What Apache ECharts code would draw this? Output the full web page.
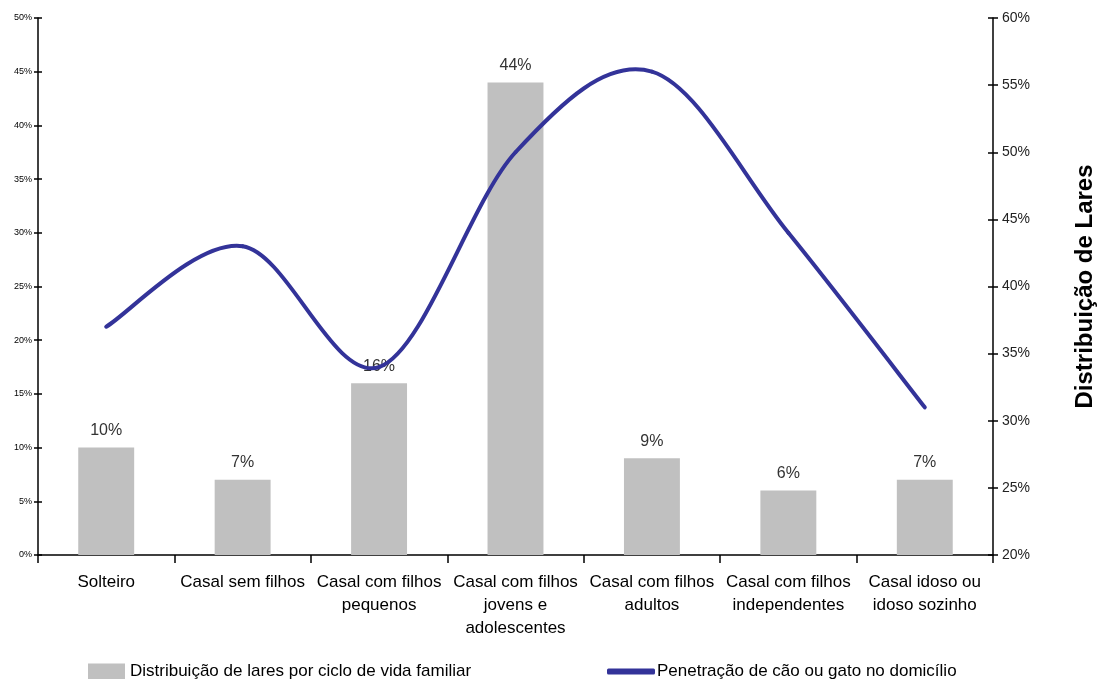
<!DOCTYPE html>
<html>
<head>
<meta charset="utf-8">
<script src="https://cdn.jsdelivr.net/npm/echarts@6/dist/echarts.min.js"></script>
<style>
  html, body { margin: 0; padding: 0; background: #fff; }
  #chart { width: 1100px; height: 679px; }
</style>
</head>
<body>
<div id="chart"></div>
<script>
// Household life-cycle categories
const categories = [
  'Solteiro',
  'Casal sem filhos',
  'Casal com filhos\npequenos',
  'Casal com filhos\njovens e\nadolescentes',
  'Casal com filhos\nadultos',
  'Casal com filhos\nindependentes',
  'Casal idoso ou\nidoso sozinho'
];
// Share of households per life-cycle stage (%)
const householdShare = [10, 7, 16, 44, 9, 6, 7];
// Dog or cat ownership per stage (%)
const petPenetration = [37, 43, 34, 50, 56, 44, 31];

const barName = 'Distribuição de lares por ciclo de vida familiar';
const lineName = 'Penetração de cão ou gato no domicílio';
const font = 'Liberation Sans, Arial, sans-serif';
const lineColor = '#333399';

const chart = echarts.init(document.getElementById('chart'), null, { renderer: 'canvas' });

const pct = v => v + '%';

// Smoothed line: one Catmull-Rom bezier segment per pair of neighbouring points,
// positioned through the chart's own axes with api.coord.
function renderPenetration(params, api) {
  const n = petPenetration.length;
  const i = params.dataIndex;
  if (i >= n - 1) return null;
  const pt = k => {
    const j = Math.max(0, Math.min(n - 1, k));
    return api.coord([j, petPenetration[j]]);
  };
  const p0 = pt(i - 1), p1 = pt(i), p2 = pt(i + 1), p3 = pt(i + 2);
  return {
    type: 'bezierCurve',
    shape: {
      x1: p1[0], y1: p1[1],
      x2: p2[0], y2: p2[1],
      cpx1: p1[0] + (p2[0] - p0[0]) / 6, cpy1: p1[1] + (p2[1] - p0[1]) / 6,
      cpx2: p2[0] - (p3[0] - p1[0]) / 6, cpy2: p2[1] - (p3[1] - p1[1]) / 6
    },
    style: { stroke: lineColor, lineWidth: 4, fill: null, lineCap: 'round' }
  };
}

chart.setOption({
  animation: false,
  backgroundColor: '#ffffff',
  grid: { left: 38, right: 107, top: 18, bottom: 124, containLabel: false, outerBoundsMode: 'none' },
  legend: [
    {
      data: [{ name: barName, icon: 'rect' }],
      left: 83, top: 658,
      itemWidth: 37, itemHeight: 16, itemGap: 6,
      textStyle: { fontFamily: font, fontSize: 17, color: '#000' }
    },
    {
      data: [{ name: lineName, icon: 'roundRect' }],
      left: 602, top: 658,
      itemWidth: 48, itemHeight: 6, itemGap: 2,
      textStyle: { fontFamily: font, fontSize: 17, color: '#000', padding: [0, 0, 0, -3] }
    }
  ],
  xAxis: {
    type: 'category',
    data: categories,
    boundaryGap: true,
    axisLine: { lineStyle: { color: '#000', width: 1.5 } },
    axisTick: { show: true, length: 8, alignWithLabel: false, lineStyle: { color: '#000', width: 1.5 } },
    axisLabel: {
      interval: 0, margin: 16,
      fontFamily: font, fontSize: 17, color: '#000', lineHeight: 23
    }
  },
  yAxis: [
    {
      type: 'value', position: 'left',
      min: 0, max: 50, interval: 5,
      axisLine: { show: true, lineStyle: { color: '#000', width: 1.5 } },
      axisTick: { show: true, length: 4, lineStyle: { color: '#000', width: 1.5 } },
      splitLine: { show: false },
      axisLabel: { formatter: pct, fontFamily: font, fontSize: 9, color: '#000', margin: 6 }
    },
    {
      type: 'value', position: 'right',
      min: 20, max: 60, interval: 5,
      name: 'Distribuição de Lares',
      nameLocation: 'middle', nameRotate: 90, nameGap: 80,
      nameTextStyle: { fontFamily: font, fontSize: 24, fontWeight: 'bold', color: '#000' },
      axisLine: { show: true, lineStyle: { color: '#000', width: 1.5 } },
      axisTick: { show: true, length: 5, lineStyle: { color: '#000', width: 1.5 } },
      splitLine: { show: false },
      axisLabel: { formatter: pct, fontFamily: font, fontSize: 14, color: '#222', margin: 9 }
    },
    {
      // inner half of the crossing tick marks, left side
      type: 'value', position: 'left',
      min: 0, max: 50, interval: 5,
      axisLine: { show: false },
      axisTick: { show: true, inside: true, length: 4, lineStyle: { color: '#000', width: 1.5 } },
      axisLabel: { show: false },
      splitLine: { show: false }
    },
    {
      // inner half of the crossing tick marks, right side
      type: 'value', position: 'right',
      min: 20, max: 60, interval: 5,
      axisLine: { show: false },
      axisTick: { show: true, inside: true, length: 5, lineStyle: { color: '#000', width: 1.5 } },
      axisLabel: { show: false },
      splitLine: { show: false }
    }
  ],
  series: [
    {
      name: barName,
      type: 'bar',
      yAxisIndex: 0,
      data: householdShare,
      barWidth: '41%',
      itemStyle: { color: '#C0C0C0' },
      label: {
        show: true, position: 'top', distance: 9,
        formatter: p => p.value + '%',
        fontFamily: font, fontSize: 16, color: '#333'
      },
      z: 2
    },
    {
      name: lineName,
      type: 'custom',
      yAxisIndex: 1,
      data: petPenetration.map((v, i) => [i, v]),
      encode: { x: 0, y: 1 },
      renderItem: renderPenetration,
      itemStyle: { color: lineColor },
      z: 3
    }
  ]
});
</script>
</body>
</html>
